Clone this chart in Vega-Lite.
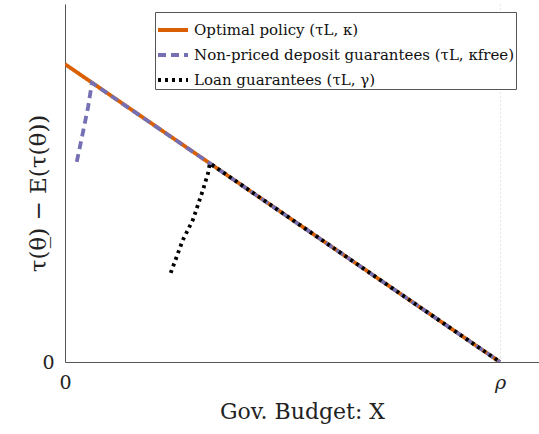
{
  "$schema": "https://vega.github.io/schema/vega-lite/v6.json",
  "width": 474,
  "height": 358,
  "autosize": {"type": "none"},
  "padding": {"left": 65, "top": 4, "right": 0, "bottom": 72},
  "background": "white",
  "config": {"view": {"stroke": null}, "font": "DejaVu Serif"},
  "data": {"values": [
    {"s": "Optimal policy (τL, κ)", "x": 0, "y": 0.832},
    {"s": "Optimal policy (τL, κ)", "x": 1, "y": 0},
    {"s": "Non-priced deposit guarantees (τL, κfree)", "x": 0.027, "y": 0.559},
    {"s": "Non-priced deposit guarantees (τL, κfree)", "x": 0.041, "y": 0.640},
    {"s": "Non-priced deposit guarantees (τL, κfree)", "x": 0.053, "y": 0.712},
    {"s": "Non-priced deposit guarantees (τL, κfree)", "x": 0.062, "y": 0.780},
    {"s": "Non-priced deposit guarantees (τL, κfree)", "x": 1, "y": 0},
    {"s": "Loan guarantees (τL, γ)", "x": 0.243, "y": 0.249},
    {"s": "Loan guarantees (τL, γ)", "x": 0.271, "y": 0.341},
    {"s": "Loan guarantees (τL, γ)", "x": 0.294, "y": 0.397},
    {"s": "Loan guarantees (τL, γ)", "x": 0.317, "y": 0.480},
    {"s": "Loan guarantees (τL, γ)", "x": 0.329, "y": 0.528},
    {"s": "Loan guarantees (τL, γ)", "x": 0.333, "y": 0.555},
    {"s": "Loan guarantees (τL, γ)", "x": 1, "y": 0}
  ]},
  "mark": {"type": "line", "strokeWidth": 3.8, "clip": true},
  "encoding": {
    "x": {"field": "x", "type": "quantitative", "scale": {"domain": [0, 1.0897], "nice": false, "zero": false},
      "axis": {"values": [0, 1], "labelExpr": "datum.value == 0 ? '0' : 'ρ'", "title": "Gov. Budget: X",
        "labelFont": "DejaVu Serif", "labelFontSize": 19,
        "labelFontStyle": {"condition": {"test": "datum.value == 1", "value": "italic"}, "value": "normal"},
        "labelColor": "#222", "labelPadding": 11,
        "titleFont": "DejaVu Serif", "titleFontSize": 22, "titleFontWeight": "normal", "titleColor": "#222",
        "titleY": 56, "titleBaseline": "alphabetic",
        "domainColor": "#555", "tickSize": 0, "grid": true, "gridDash": [1, 3], "gridColor": "#ccc", "labelFlush": false}},
    "y": {"field": "y", "type": "quantitative", "scale": {"domain": [0, 1], "nice": false},
      "axis": {"values": [0], "title": "τ(θ̲) − E(τ(θ))",
        "labelFont": "DejaVu Serif", "labelFontSize": 19, "labelColor": "#222", "labelPadding": 11,
        "titleFont": "DejaVu Serif", "titleFontSize": 23, "titleFontWeight": "normal", "titleColor": "#222",
        "titleX": -27, "titleY": 189, "titleBaseline": "middle", "titleAlign": "center", "titleAngle": -90,
        "domainColor": "#555", "tickSize": 0, "grid": false}},
    "color": {"field": "s", "type": "nominal",
      "scale": {"domain": ["Optimal policy (τL, κ)", "Non-priced deposit guarantees (τL, κfree)", "Loan guarantees (τL, γ)"],
        "range": ["#D95F02", "#7570B3", "#000000"]},
      "legend": {"title": null, "orient": "none", "legendX": 90, "legendY": 8, "direction": "vertical",
        "symbolType": "stroke", "symbolSize": 900, "symbolStrokeWidth": 3.8,
        "labelFont": "DejaVu Serif", "labelFontSize": 15, "labelColor": "#111", "labelLimit": 500,
        "strokeColor": "#555", "fillColor": "white", "padding": 1, "rowPadding": -8, "labelOffset": 4}},
    "strokeDash": {"field": "s", "type": "nominal",
      "scale": {"domain": ["Optimal policy (τL, κ)", "Non-priced deposit guarantees (τL, κfree)", "Loan guarantees (τL, γ)"],
        "range": [[1, 0], [8, 5], [3, 4]]},
      "legend": {"title": null, "orient": "none", "legendX": 90, "legendY": 8, "direction": "vertical",
        "symbolType": "stroke", "symbolSize": 900, "symbolStrokeWidth": 3.8,
        "labelFont": "DejaVu Serif", "labelFontSize": 15, "labelColor": "#111", "labelLimit": 500,
        "strokeColor": "#555", "fillColor": "white", "padding": 1, "rowPadding": -8, "labelOffset": 4}}
  }
}
